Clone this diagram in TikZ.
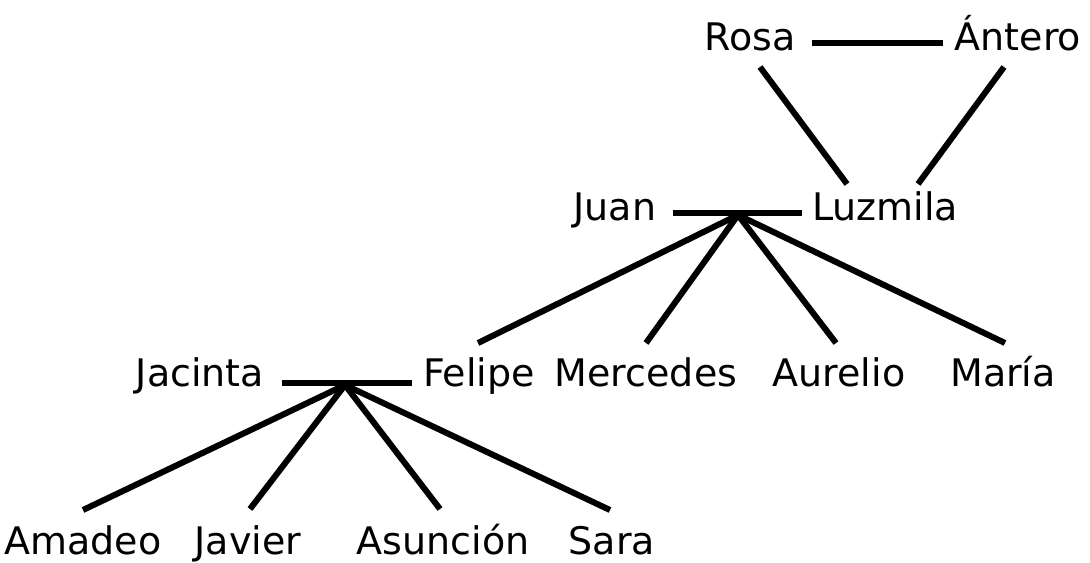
\documentclass[tikz,border=0pt]{standalone}
\usepackage{fontspec}
\setmainfont{DejaVu Sans}
\usepackage{tikz}
\usetikzlibrary{calc}

\begin{document}
\begin{tikzpicture}[
    x=0.025cm, y=-0.025cm,
    person/.style={font=\fontsize{27}{32}\selectfont, inner sep=0pt, anchor=base},
    couple/.style={line width=4.3pt},
    child/.style={line width=4.3pt}
]
\useasboundingbox (0,0) rectangle (1090,562);

% --- Grandparents ---
\node[person] (rosa) at (750,50) {Rosa};
\node[person] (antero) at (1018,50) {Ántero};
\draw[couple] ([shift={(16,-7)}]rosa.base east) -- ([shift={(-12,-7)}]antero.base west);

% --- Parents ---
\node[person] (juan) at (615,220) {Juan};
\node[person] (luzmila) at (885,220) {Luzmila};
\draw[couple] ([shift={(16,-7)}]juan.base east) -- ([shift={(-10,-7)}]luzmila.base west);
\coordinate (jl) at (738,215);
\draw[child] ([shift={(10,17)}]rosa.base) -- ([shift={(-38,-36)}]luzmila.base);
\draw[child] ([shift={(-14,17)}]antero.base) -- ([shift={(33,-36)}]luzmila.base);

% --- Children of Juan and Luzmila ---
\node[person] (jacinta) at (200,386) {Jacinta};
\node[person] (felipe) at (479,386) {Felipe};
\node[person] (mercedes) at (646,386) {Mercedes};
\node[person] (aurelio) at (839,386) {Aurelio};
\node[person] (maria) at (1003,386) {María};
\draw[couple] ([shift={(18,-3)}]jacinta.base east) -- ([shift={(-11,-3)}]felipe.base west);
\coordinate (jf) at (345,385);
\draw[child] (jl) -- ([shift={(-1,-43)}]felipe.base);
\draw[child] (jl) -- ([shift={(0,-43)}]mercedes.base);
\draw[child] (jl) -- ([shift={(-3,-43)}]aurelio.base);
\draw[child] (jl) -- ([shift={(2,-43)}]maria.base);

% --- Grandchildren ---
\node[person] (amadeo) at (83,554) {Amadeo};
\node[person] (javier) at (248,554) {Javier};
\node[person] (asuncion) at (443,554) {Asunción};
\node[person] (sara) at (612,554) {Sara};
\draw[child] (jf) -- ([shift={(0,-44)}]amadeo.base);
\draw[child] (jf) -- ([shift={(2,-45)}]javier.base);
\draw[child] (jf) -- ([shift={(-3,-45)}]asuncion.base);
\draw[child] (jf) -- ([shift={(-2,-44)}]sara.base);

\end{tikzpicture}
\end{document}
